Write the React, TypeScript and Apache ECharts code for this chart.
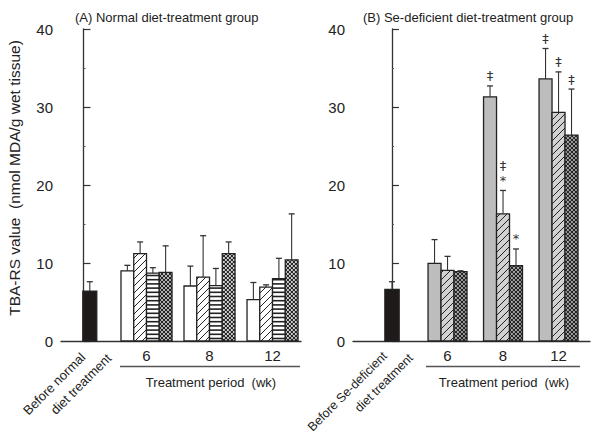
import React, { useEffect, useRef } from 'react';
import * as echarts from 'echarts';

// ---------- data ----------
const groupLabels = ['6', '8', '12'];
const groupPos = [1, 2, 3];
const beforePosA = [0.1];
const beforePosB = [0];

// Panel A (normal diet)
const aBefore = [6.4];
const aBeforeSd = [1.2];
const aWhite = [9.0, 7.05, 5.3];
const aWhiteSd = [0.7, 2.55, 2.2];
const aDiag = [11.2, 8.2, 6.9];
const aDiagSd = [1.5, 5.3, 0.3];
const aHoriz = [8.7, 7.1, 8.0];
const aHorizSd = [0.7, 2.2, 2.6];
const aCross = [8.8, 11.2, 10.4];
const aCrossSd = [3.4, 1.5, 5.9];

// Panel B (Se-deficient diet)
const bBefore = [6.6];
const bBeforeSd = [1.0];
const bGray = [9.95, 31.3, 33.6];
const bGraySd = [3.05, 1.4, 3.9];
const bDiag = [9.05, 16.3, 29.3];
const bDiagSd = [1.8, 3.0, 5.2];
const bCross = [8.9, 9.65, 26.4];
const bCrossSd = [0.1, 2.15, 5.9];
// marks listed from top to bottom
const bGrayMarks = [[], ['‡'], ['‡']];
const bDiagMarks = [[], ['‡', '*'], ['‡']];
const bCrossMarks = [[], ['*'], ['‡']];

const yTicks = { min: 0, max: 40, interval: 10 };

const FONT = '"Liberation Sans", Arial, Helvetica, sans-serif';
const MARK_FONT = '"DejaVu Sans", "Liberation Sans", sans-serif';
const INK = '#222';

function hatch(kind: string, x0: number, y0: number, x1: number, y1: number) {
  const els: any[] = [];
  const st = (w: number) => ({ stroke: INK, lineWidth: w });
  if (kind === 'diag' || kind === 'cross') {
    const s = kind === 'diag' ? 7 : 4;
    const w = kind === 'diag' ? 1 : 1.1;
    for (let c = Math.ceil((x0 + y0) / s) * s; c <= x1 + y1; c += s) {
      const xa = Math.max(x0, c - y1);
      const xb = Math.min(x1, c - y0);
      if (xb > xa) els.push({ type: 'line', shape: { x1: xa, y1: c - xa, x2: xb, y2: c - xb }, style: st(w) });
    }
    if (kind === 'cross') {
      for (let c = Math.ceil((x0 - y1) / s) * s; c <= x1 - y0; c += s) {
        const xa = Math.max(x0, y0 + c);
        const xb = Math.min(x1, y1 + c);
        if (xb > xa) els.push({ type: 'line', shape: { x1: xa, y1: xa - c, x2: xb, y2: xb - c }, style: st(w) });
      }
    }
  } else if (kind === 'horiz') {
    const s = 4.2;
    for (let y = y1 - 2.5; y > y0 + 1; y -= s) {
      els.push({ type: 'line', shape: { x1: x0, y1: y, x2: x1, y2: y }, style: st(1.6) });
    }
  }
  return els;
}

function makeRender(kind: string, fill: string, idx: number, n: number, barW: number, marks?: string[][]) {
  return (params: any, api: any) => {
    const xv = api.value(0) + (idx - (n - 1) / 2) * barW;
    const v = api.value(1);
    const sd = api.value(2);
    const base = api.coord([xv, 0]);
    const top = api.coord([xv, v]);
    const et = api.coord([xv, v + sd]);
    const w = api.size([barW, 0])[0];
    const x0 = base[0] - w / 2;
    const x1 = base[0] + w / 2;
    const children: any[] = [];
    children.push({ type: 'rect', shape: { x: x0, y: top[1], width: w, height: base[1] - top[1] }, style: { fill, stroke: 'none' } });
    children.push(...hatch(kind, x0, top[1], x1, base[1]));
    children.push({ type: 'rect', shape: { x: x0, y: top[1], width: w, height: base[1] - top[1] }, style: { fill: 'none', stroke: INK, lineWidth: 1.3 } });
    children.push({ type: 'line', shape: { x1: base[0], y1: top[1], x2: base[0], y2: et[1] }, style: { stroke: '#333', lineWidth: 1.1 } });
    children.push({ type: 'line', shape: { x1: base[0] - 3, y1: et[1], x2: base[0] + 3, y2: et[1] }, style: { stroke: '#333', lineWidth: 1.3 } });
    const m = marks ? marks[params.dataIndex] : [];
    const k = m.length;
    m.forEach((t, i) => {
      const y = et[1] - 10 - (k - 1 - i) * 15;
      children.push({
        type: 'text',
        style: {
          text: t, x: base[0], y, fill: '#333', font: '13px ' + MARK_FONT,
          align: 'center', verticalAlign: 'middle', textAlign: 'center', textVerticalAlign: 'middle',
        },
      });
    });
    return { type: 'group', children };
  };
}

function toData(pos: number[], vals: number[], sds: number[]) {
  return vals.map((v, i) => [pos[i], v, sds[i]]);
}

export default function App() {
  const ref = useRef<HTMLDivElement>(null);
  useEffect(() => {
    document.body.style.margin = '0';
    if (!ref.current) return;
    const chart = echarts.init(ref.current, undefined, { renderer: 'svg' });
    const wA = 0.2024;
    const wAb = 0.222;
    const wB = 0.234;
    const wBb = 0.258;
    const yAxisBase = (gi: number) => ({
      type: 'value', gridIndex: gi, ...yTicks,
      axisLine: { show: true, lineStyle: { color: '#333', width: 1.3 } },
      axisTick: { show: true, inside: true, length: 7, lineStyle: { color: '#333', width: 1.2 } },
      minorTick: { show: true, splitNumber: 2, length: 2, lineStyle: { color: '#555' } },
      splitLine: { show: false },
      axisLabel: { fontSize: 15, color: INK, fontFamily: FONT, margin: 8 },
    });
    const xAxisBase = (gi: number, min: number, max: number) => ({
      type: 'value', gridIndex: gi, min, max,
      axisLine: { show: true, onZero: false, lineStyle: { color: '#333', width: 1.3 } },
      axisTick: { show: false },
      splitLine: { show: false },
      axisLabel: {
        show: true, customValues: groupPos, fontSize: 15, color: INK, fontFamily: FONT, margin: 7,
        formatter: (val: number) => {
          const i = groupPos.indexOf(Math.round(val));
          return i >= 0 ? groupLabels[i] : '';
        },
      },
    });
    const cs = (xi: number, kind: string, fill: string, idx: number, n: number, w: number, data: any[], marks?: string[][]) => ({
      type: 'custom', xAxisIndex: xi, yAxisIndex: xi, renderItem: makeRender(kind, fill, idx, n, w, marks),
      data, encode: { x: 0, y: 1 }, clip: false, silent: true,
    });
    const textStyle = (size: number) => ({ fill: INK, font: `${size}px ${FONT}` });
    const rot = Math.PI / 4;
    const option: any = {
      animation: false,
      grid: [
        { left: 61, top: 29, width: 240, height: 312, containLabel: false },
        { left: 353, top: 29, width: 237, height: 312, containLabel: false },
      ],
      xAxis: [xAxisBase(0, -0.357, 3.452), xAxisBase(1, -0.703, 3.567)],
      yAxis: [yAxisBase(0), yAxisBase(1)],
      series: [
        cs(0, 'none', '#1e1a1a', 0, 1, wAb, toData(beforePosA, aBefore, aBeforeSd)),
        cs(0, 'none', '#ffffff', 0, 4, wA, toData(groupPos, aWhite, aWhiteSd)),
        cs(0, 'diag', '#ffffff', 1, 4, wA, toData(groupPos, aDiag, aDiagSd)),
        cs(0, 'horiz', '#ffffff', 2, 4, wA, toData(groupPos, aHoriz, aHorizSd)),
        cs(0, 'cross', '#ffffff', 3, 4, wA, toData(groupPos, aCross, aCrossSd)),
        cs(1, 'none', '#1e1a1a', 0, 1, wBb, toData(beforePosB, bBefore, bBeforeSd)),
        cs(1, 'none', '#bdbdbd', 0, 3, wB, toData(groupPos, bGray, bGraySd), bGrayMarks),
        cs(1, 'diag', '#d2d2d2', 1, 3, wB, toData(groupPos, bDiag, bDiagSd), bDiagMarks),
        cs(1, 'cross', '#d2d2d2', 2, 3, wB, toData(groupPos, bCross, bCrossSd), bCrossMarks),
      ],
      graphic: [
        { type: 'text', x: 75, y: 17, style: { text: '(A) Normal diet-treatment group', ...textStyle(13), align: 'left', verticalAlign: 'middle', textAlign: 'left', textVerticalAlign: 'middle' } },
        { type: 'text', x: 363, y: 17, style: { text: '(B) Se-deficient diet-treatment group', ...textStyle(13), align: 'left', verticalAlign: 'middle', textAlign: 'left', textVerticalAlign: 'middle' } },
        { type: 'text', x: 14, y: 178, rotation: Math.PI / 2, style: { text: 'TBA-RS value  (nmol MDA/g wet tissue)', ...textStyle(15.5), align: 'center', verticalAlign: 'middle', textAlign: 'center', textVerticalAlign: 'middle' } },
        { type: 'line', shape: { x1: 120, y1: 366.5, x2: 300, y2: 366.5 }, style: { stroke: '#555', lineWidth: 1.3 } },
        { type: 'line', shape: { x1: 426, y1: 366.5, x2: 580, y2: 366.5 }, style: { stroke: '#555', lineWidth: 1.3 } },
        { type: 'text', x: 211, y: 382, style: { text: 'Treatment period  (wk)', ...textStyle(13), align: 'center', verticalAlign: 'middle', textAlign: 'center', textVerticalAlign: 'middle' } },
        { type: 'text', x: 504, y: 382, style: { text: 'Treatment period  (wk)', ...textStyle(13), align: 'center', verticalAlign: 'middle', textAlign: 'center', textVerticalAlign: 'middle' } },
        { type: 'text', x: 83, y: 355, rotation: rot, style: { text: 'Before normal', ...textStyle(13), align: 'right', verticalAlign: 'middle', textAlign: 'right', textVerticalAlign: 'middle' } },
        { type: 'text', x: 109, y: 356, rotation: rot, style: { text: 'diet treatment', ...textStyle(13), align: 'right', verticalAlign: 'middle', textAlign: 'right', textVerticalAlign: 'middle' } },
        { type: 'text', x: 385, y: 354, rotation: rot, style: { text: 'Before Se-deficient', ...textStyle(12.5), align: 'right', verticalAlign: 'middle', textAlign: 'right', textVerticalAlign: 'middle' } },
        { type: 'text', x: 411, y: 356, rotation: rot, style: { text: 'diet treatment', ...textStyle(12.5), align: 'right', verticalAlign: 'middle', textAlign: 'right', textVerticalAlign: 'middle' } },
      ],
    };
    chart.setOption(option);
    return () => chart.dispose();
  }, []);
  return <div ref={ref} style={{ width: 592, height: 441 }} />;
}
